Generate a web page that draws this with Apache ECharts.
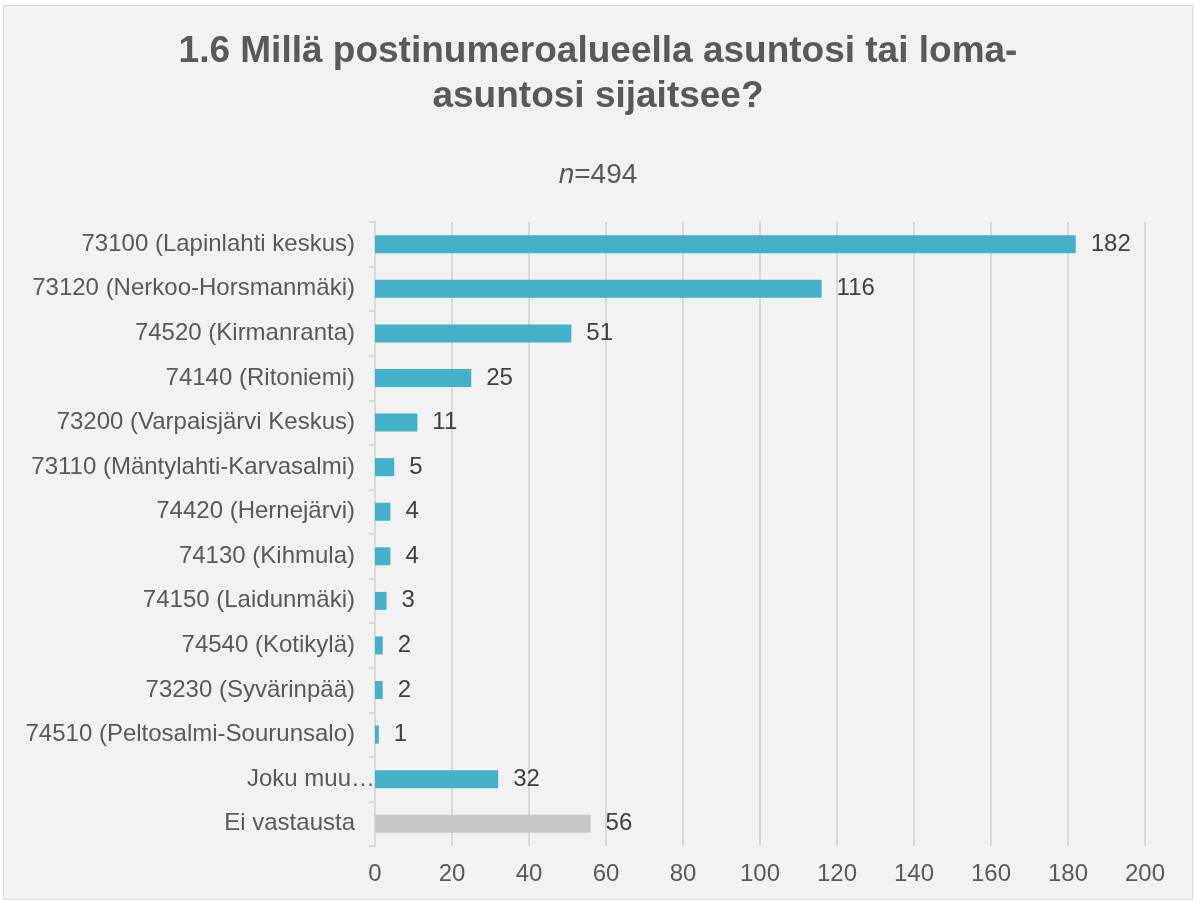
<!DOCTYPE html>
<html>
<head>
<meta charset="utf-8">
<script src="https://cdn.jsdelivr.net/npm/echarts@6/dist/echarts.min.js"></script>
<style>
  html, body { margin: 0; padding: 0; background: #fff; }
  #chart {
    position: absolute; left: 3px; top: 5px;
    width: 1188px; height: 893px;
    border: 1px solid #d9d9d9; background: #f2f2f2;
  }
</style>
</head>
<body>
<div id="chart"></div>
<script>
// vastausalueet ylhäältä alas
const areas = [
  '73100 (Lapinlahti keskus)',
  '73120 (Nerkoo-Horsmanmäki)',
  '74520 (Kirmanranta)',
  '74140 (Ritoniemi)',
  '73200 (Varpaisjärvi Keskus)',
  '73110 (Mäntylahti-Karvasalmi)',
  '74420 (Hernejärvi)',
  '74130 (Kihmula)',
  '74150 (Laidunmäki)',
  '74540 (Kotikylä)',
  '73230 (Syvärinpää)',
  '74510 (Peltosalmi-Sourunsalo)',
  'Joku muu…',
  'Ei vastausta'
];
const counts = [182, 116, 51, 25, 11, 5, 4, 4, 3, 2, 2, 1, 32, 56];
const noAnswer = 'Ei vastausta';
const cutLabel = 'Joku muu…';

const teal = '#43b1c7';
const grey = '#c8c8c8';
const textCol = '#595959';
const lineCol = '#d9d9d9';
const font = 'Liberation Sans, Arial, sans-serif';

const chart = echarts.init(document.getElementById('chart'));

const titleStyle = {
  fontFamily: font,
  fontWeight: 'bold',
  fontSize: 37,
  lineHeight: 46,
  color: textCol
};

chart.setOption({
  backgroundColor: '#f2f2f2',
  animation: false,
  title: [
    { text: '1.6 Millä postinumeroalueella asuntosi tai loma-', left: 'center', top: 18, textStyle: titleStyle },
    { text: 'asuntosi sijaitsee?', left: 'center', top: 63, textStyle: titleStyle },
    {
      text: '{i|n}{r|=494}',
      left: 'center',
      top: 150,
      textStyle: {
        fontWeight: 'normal',
        rich: {
          i: { fontFamily: font, fontStyle: 'italic', fontWeight: 'normal', fontSize: 28, color: textCol },
          r: { fontFamily: font, fontWeight: 'normal', fontSize: 28, color: textCol }
        }
      }
    }
  ],
  grid: { left: 371, right: 47, top: 216, bottom: 53, containLabel: false },
  xAxis: {
    type: 'value',
    min: 0,
    max: 200,
    interval: 20,
    axisLine: { show: false },
    axisTick: { show: false },
    axisLabel: { color: textCol, fontFamily: font, fontSize: 24, margin: 16 },
    splitLine: { lineStyle: { color: lineCol, width: 2 } }
  },
  yAxis: {
    type: 'category',
    inverse: true,
    data: areas.map(a => a === cutLabel
      ? { value: a, textStyle: { padding: [0, -20, 0, 0] } }
      : a),
    axisLine: { lineStyle: { color: lineCol, width: 2 } },
    axisTick: { show: true, length: 6, lineStyle: { color: lineCol, width: 2 } },
    axisLabel: { color: textCol, fontFamily: font, fontSize: 24, margin: 20 }
  },
  series: [
    {
      type: 'bar',
      barWidth: 18,
      data: counts.map((v, i) => ({
        value: v,
        itemStyle: { color: areas[i] === noAnswer ? grey : teal }
      })),
      label: {
        show: true,
        position: 'right',
        distance: 15,
        color: '#404040',
        fontFamily: font,
        fontSize: 24
      }
    }
  ]
});
</script>
</body>
</html>
